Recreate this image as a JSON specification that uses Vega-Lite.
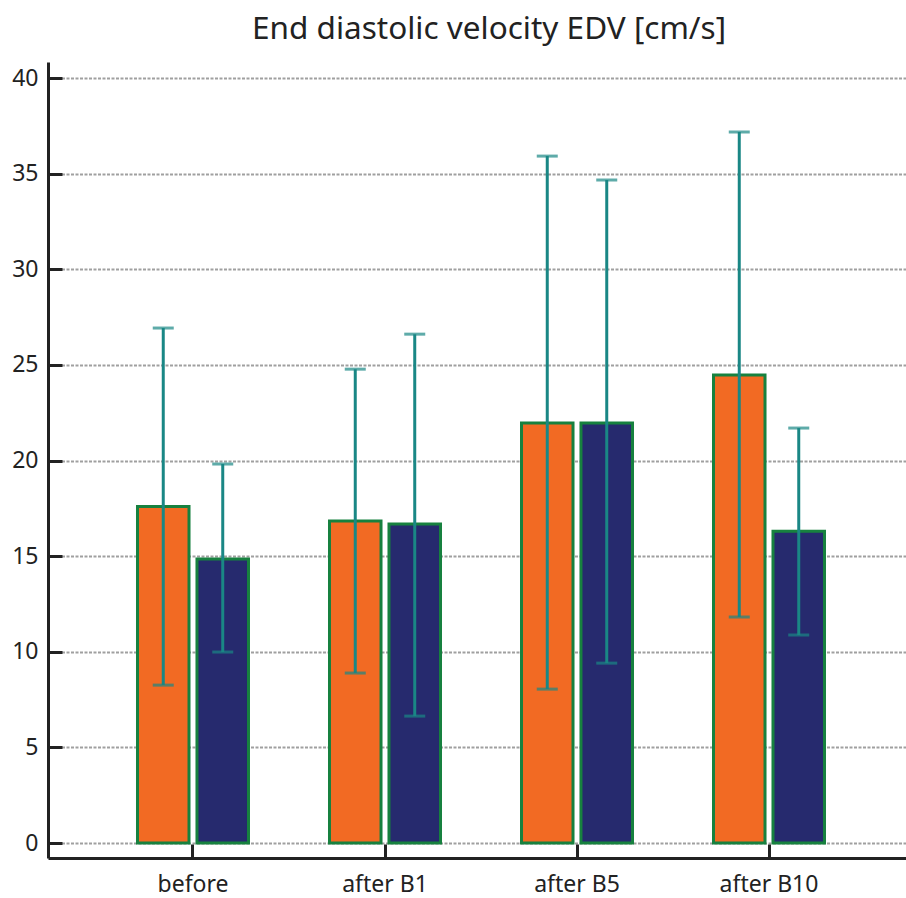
{
  "$schema": "https://vega.github.io/schema/vega-lite/v6.json",
  "width": 858,
  "height": 796,
  "autosize": {"type": "none"},
  "padding": {"left": 48, "top": 62, "right": 0, "bottom": 40},
  "background": "white",
  "title": {"text": "End diastolic velocity EDV [cm/s]", "fontSize": 31.5, "font": "Noto Sans", "fontWeight": "normal", "color": "#222222", "offset": 17, "dx": 12},
  "config": {"view": {"stroke": null}},
  "data": {"values": [
    {"time": "before", "group": "A", "mean": 17.6, "lower": 8.26, "upper": 26.93},
    {"time": "before", "group": "B", "mean": 14.85, "lower": 9.99, "upper": 19.82},
    {"time": "after B1", "group": "A", "mean": 16.84, "lower": 8.89, "upper": 24.78},
    {"time": "after B1", "group": "B", "mean": 16.68, "lower": 6.64, "upper": 26.61},
    {"time": "after B5", "group": "A", "mean": 21.96, "lower": 8.05, "upper": 35.92},
    {"time": "after B5", "group": "B", "mean": 21.96, "lower": 9.41, "upper": 34.67},
    {"time": "after B10", "group": "A", "mean": 24.47, "lower": 11.82, "upper": 37.18},
    {"time": "after B10", "group": "B", "mean": 16.31, "lower": 10.88, "upper": 21.7}
  ]},
  "encoding": {
    "x": {
      "field": "time", "type": "nominal",
      "sort": ["before", "after B1", "after B5", "after B10"],
      "scale": {"paddingInner": 0.4219, "paddingOuter": 0.4453, "align": 0.5234},
      "axis": {"title": null, "grid": false, "labelAngle": 0, "domainColor": "#222222", "domainWidth": 3, "tickColor": "#222222", "tickWidth": 3, "tickSize": -14, "labelFontSize": 23, "labelFont": "Noto Sans", "labelColor": "#222222", "labelPadding": 29}
    },
    "xOffset": {"field": "group", "type": "nominal", "scale": {"paddingInner": 0.134, "paddingOuter": 0}}
  },
  "layer": [
    {
      "mark": {"type": "bar", "stroke": "#17813f", "strokeWidth": 3},
      "encoding": {
        "y": {
          "field": "mean", "type": "quantitative",
          "scale": {"domain": [-0.78, 40.84], "nice": false, "zero": false},
          "axis": {"title": null, "values": [0, 5, 10, 15, 20, 25, 30, 35, 40], "grid": true, "gridColor": "#a0a0a0", "gridDash": [3, 1.5], "gridWidth": 2, "domainColor": "#222222", "domainWidth": 3, "tickColor": "#222222", "tickWidth": 3, "tickSize": -14, "labelFontSize": 23, "labelFont": "Noto Sans", "labelColor": "#222222", "labelPadding": 24}
        },
        "y2": {"datum": 0},
        "color": {"field": "group", "type": "nominal", "scale": {"domain": ["A", "B"], "range": ["#f26a23", "#262a6e"]}, "legend": null}
      }
    },
    {
      "mark": {"type": "rule", "color": "#1a8785", "strokeWidth": 3},
      "encoding": {
        "y": {"field": "lower", "type": "quantitative"},
        "y2": {"field": "upper"}
      }
    },
    {
      "mark": {"type": "tick", "color": "#1a8785", "thickness": 3, "size": 21, "orient": "horizontal"},
      "encoding": {"y": {"field": "upper", "type": "quantitative"}}
    },
    {
      "mark": {"type": "tick", "color": "#1a8785", "thickness": 3, "size": 21, "orient": "horizontal"},
      "encoding": {"y": {"field": "lower", "type": "quantitative"}}
    }
  ]
}
